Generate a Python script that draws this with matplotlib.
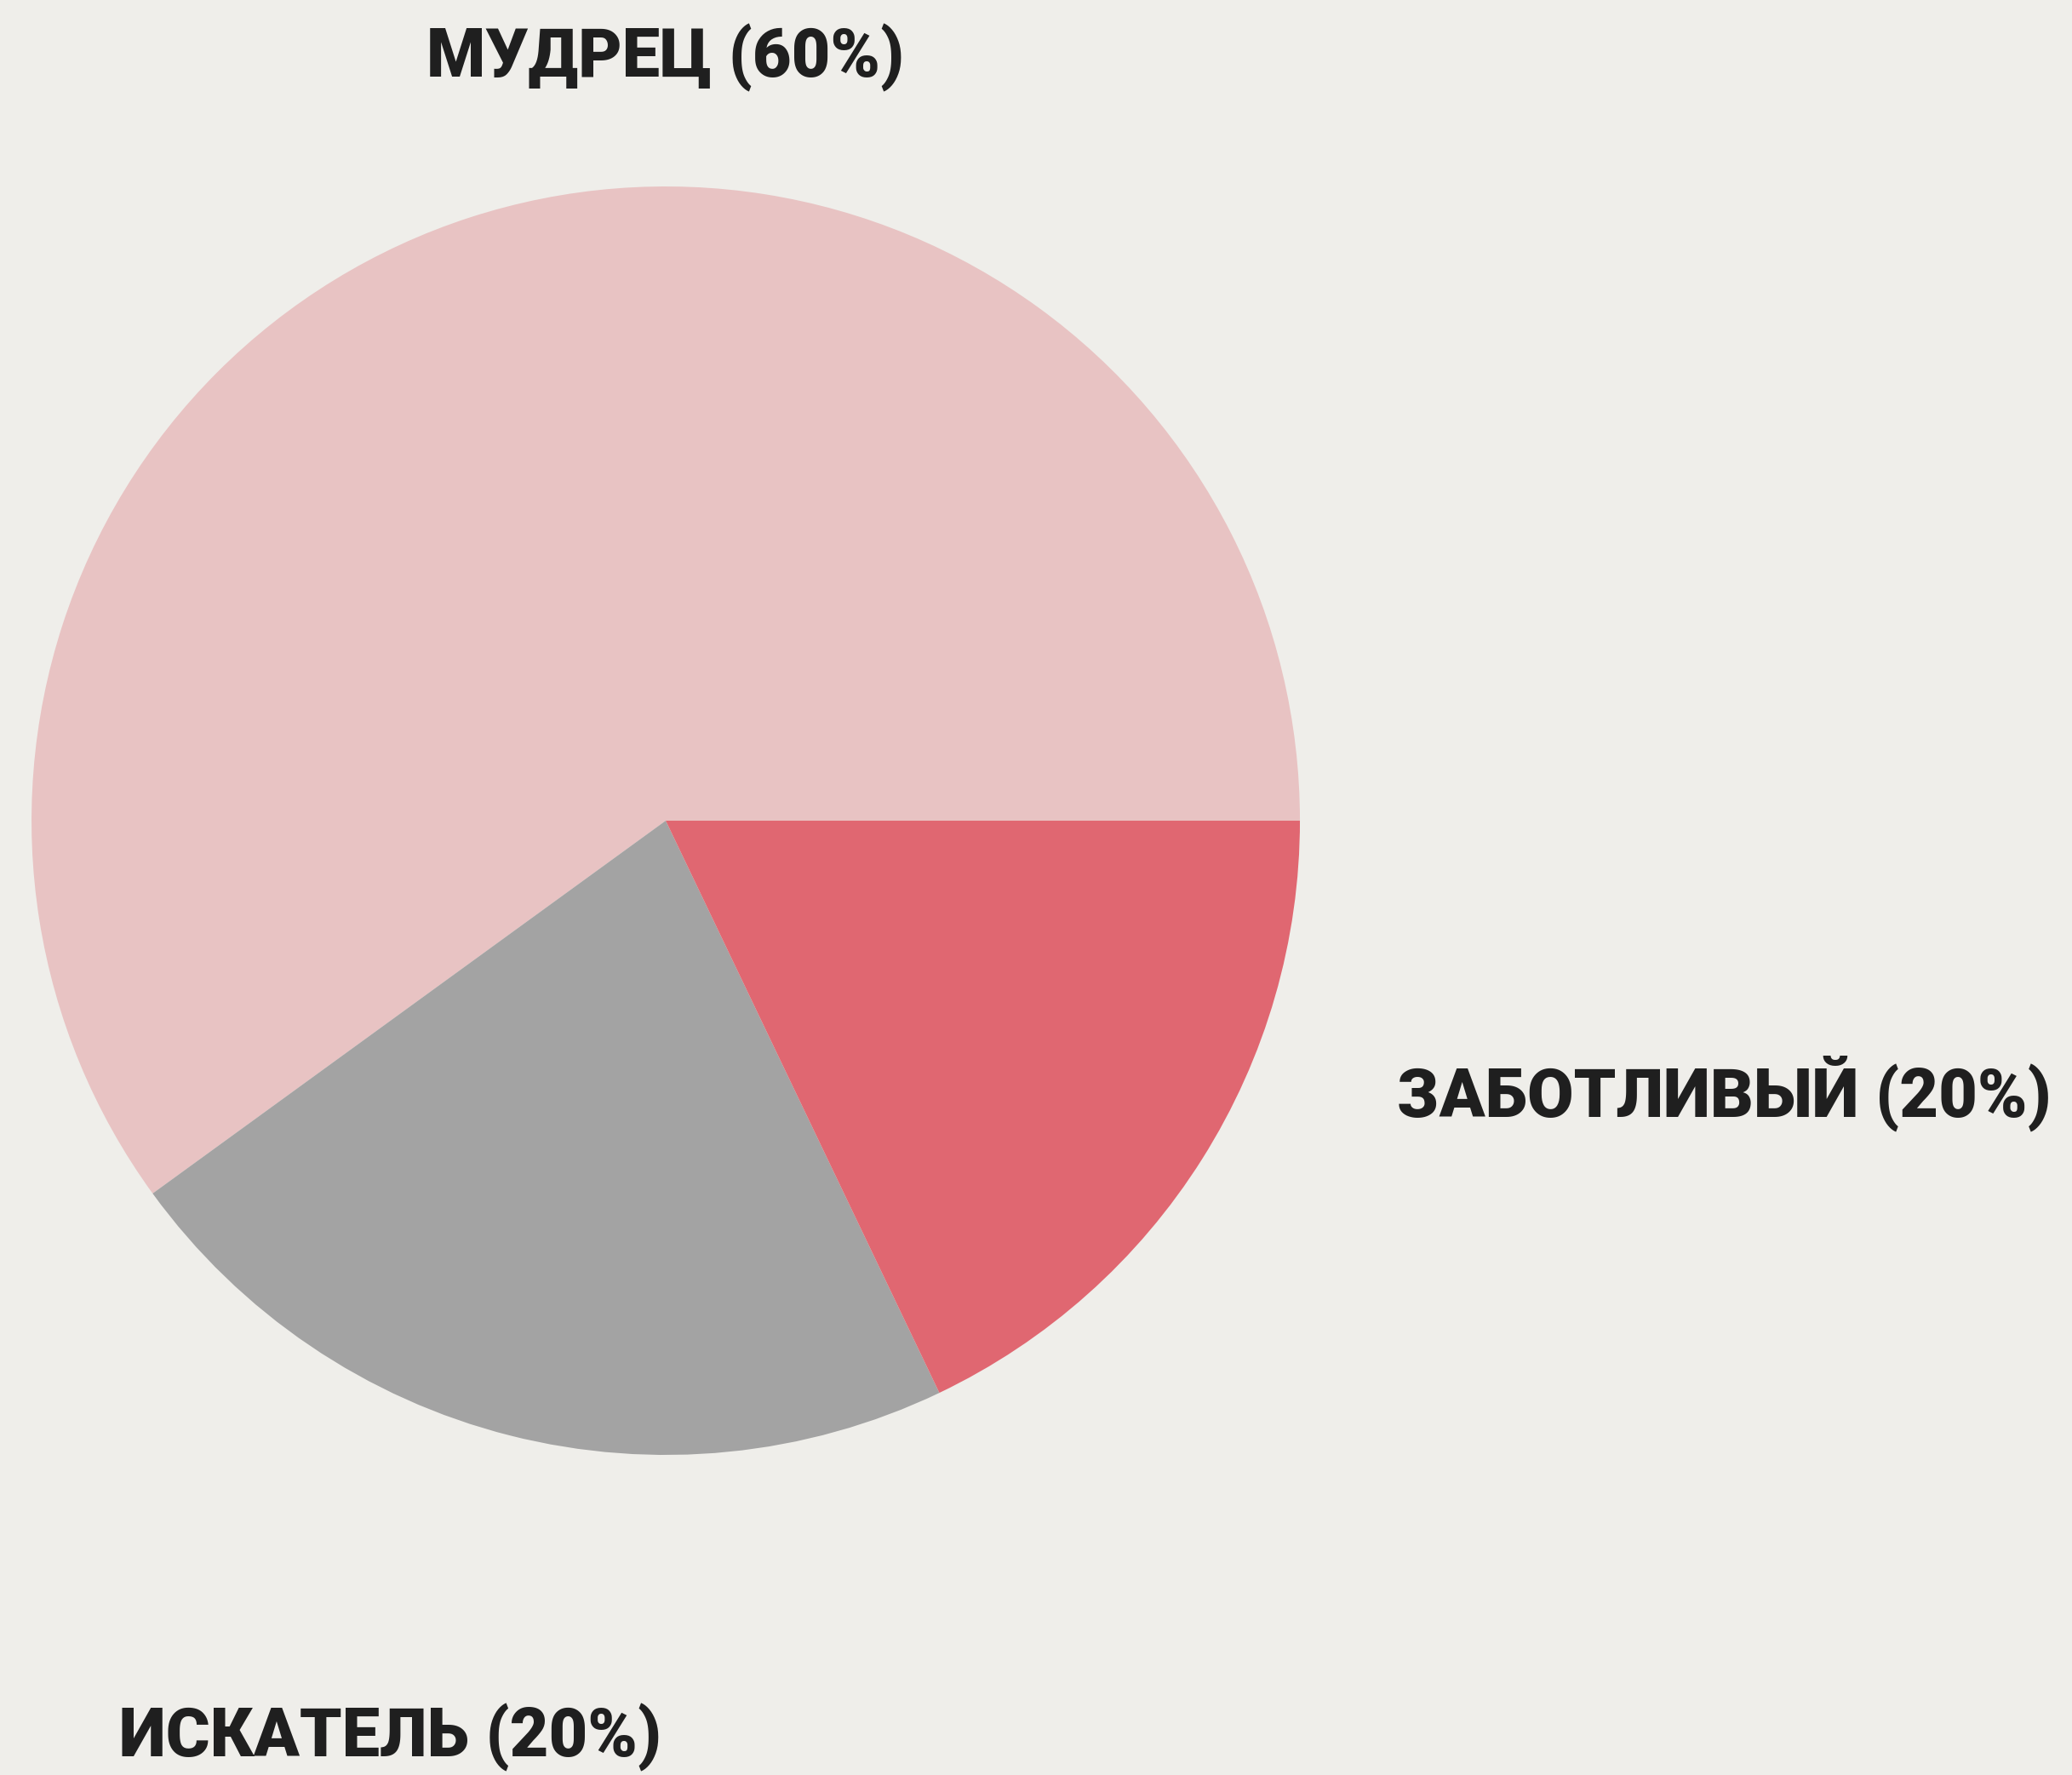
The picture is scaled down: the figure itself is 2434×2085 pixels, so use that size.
"""Pie chart of archetype shares on an off-white paper background"""

from matplotlib import pyplot as plt

# data
names = ['МУДРЕЦ', 'ИСКАТЕЛЬ', 'ЗАБОТЛИВЫЙ']
shares = [60.0, 22.1, 17.9]          # slice sizes as drawn
pct_labels = [60, 20, 20]            # percentages printed in the labels
colors = ['#e8c3c3', '#a3a3a3', '#e06771']

BG = '#efeeea'
TEXT = '#1f1f1f'

# label anchors in pie-radius units (x, y, horizontal alignment)
label_pos = {
    'МУДРЕЦ': (0.0, 1.172, 'center'),
    'ИСКАТЕЛЬ': (-0.862, -1.476, 'left'),
    'ЗАБОТЛИВЫЙ': (1.153, -0.466, 'left'),
}


def main():
    fig = plt.figure(figsize=(24.34, 20.85), dpi=100, facecolor=BG)
    ax = fig.add_axes([0, 0, 1, 1])
    ax.set_facecolor(BG)

    ax.pie(shares, colors=colors, startangle=0, counterclock=True,
           radius=1.0, wedgeprops={'linewidth': 0})

    for name, pct in zip(names, pct_labels):
        x, y, ha = label_pos[name]
        ax.text(x, y, f'{name} ({pct}%)', ha=ha, va='baseline',
                fontsize=57, fontweight='black', color=TEXT,
                family=['Roboto', 'DejaVu Sans'])

    ax.set_xlim(-1.0497, 2.2174)
    ax.set_ylim(-1.5047, 1.2940)
    ax.set_aspect('equal')
    ax.axis('off')

    fig.savefig('out.png', dpi=100, facecolor=BG)


if __name__ == '__main__':
    main()
